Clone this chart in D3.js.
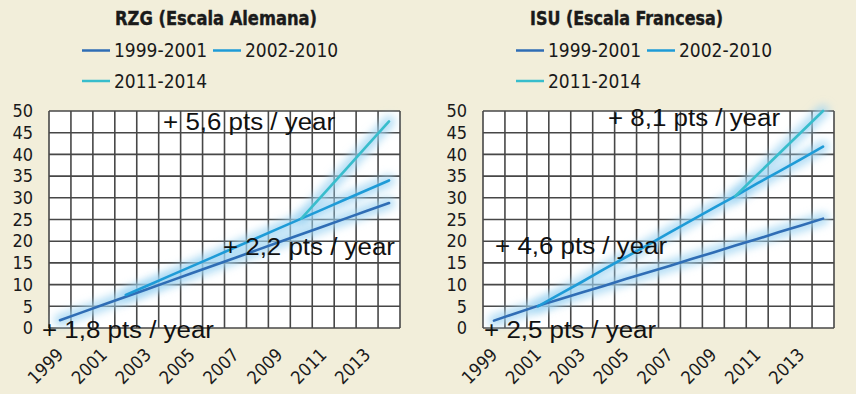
<!DOCTYPE html>
<html>
<head>
<meta charset="utf-8">
<script src="https://cdn.jsdelivr.net/npm/d3@7"></script>
<style>
  body { margin: 0; background: #f2eeda; }
  svg { display: block; }
</style>
</head>
<body>
<div id="chart"></div>
<script>
var W = 856, H = 394;

// shared axis data
var years = [1999, 2000, 2001, 2002, 2003, 2004, 2005, 2006, 2007, 2008, 2009, 2010, 2011, 2012, 2013, 2014];
var yearLabels = [1999, 2001, 2003, 2005, 2007, 2009, 2011, 2013];
var yTicks = [0, 5, 10, 15, 20, 25, 30, 35, 40, 45, 50];
var seriesNames = ["1999-2001", "2002-2010", "2011-2014"];
var seriesColors = ["#2f6db5", "#1e9bd7", "#38bdcc"];

// RZG (Escala Alemana)
var rzgYearsA = [1999, 2000, 2001, 2002, 2003, 2004, 2005, 2006, 2007, 2008, 2009, 2010, 2011, 2012, 2013, 2014];
var rzgValuesA = [1.8, 3.6, 5.4, 7.2, 9.0, 10.8, 12.6, 14.4, 16.2, 18.0, 19.8, 21.6, 23.4, 25.2, 27.0, 28.8];
var rzgYearsB = [2002, 2003, 2004, 2005, 2006, 2007, 2008, 2009, 2010, 2011, 2012, 2013, 2014];
var rzgValuesB = [7.6, 9.8, 12.0, 14.2, 16.4, 18.6, 20.8, 23.0, 25.2, 27.4, 29.6, 31.8, 34.0];
var rzgYearsC = [2010, 2011, 2012, 2013, 2014];
var rzgValuesC = [25.2, 30.8, 36.4, 42.0, 47.6];
var rzgNotes = ["+ 5,6 pts / year", "+ 2,2 pts / year", "+ 1,8 pts / year"];
var rzgNoteX = [2003.7, 2006.43, 1998.18];
var rzgNoteY = [45.6, 16.8, -2.3];

// ISU (Escala Francesa)
var isuYearsA = [1999, 2000, 2001, 2002, 2003, 2004, 2005, 2006, 2007, 2008, 2009, 2010, 2011, 2012, 2013, 2014];
var isuValuesA = [1.7, 3.4, 5.1, 6.6, 8.2, 9.7, 11.3, 12.8, 14.3, 15.9, 17.4, 19.0, 20.5, 22.1, 23.6, 25.2];
var isuYearsB = [2001, 2002, 2003, 2004, 2005, 2006, 2007, 2008, 2009, 2010, 2011, 2012, 2013, 2014];
var isuValuesB = [5.0, 7.8, 10.6, 13.5, 16.3, 19.1, 22.0, 24.8, 27.6, 30.4, 33.3, 36.1, 38.9, 41.8];
var isuYearsC = [2010, 2011, 2012, 2013, 2014];
var isuValuesC = [30.4, 35.3, 40.2, 45.1, 50.0];
var isuNotes = ["+ 8,1 pts / year", "+ 4,6 pts / year", "+ 2,5 pts / year"];
var isuNoteX = [2004.2, 1999.05, 1998.55];
var isuNoteY = [46.5, 17.1, -2.3];

var svg = d3.select("#chart").append("svg")
    .attr("width", W)
    .attr("height", H);

svg.append("rect").attr("width", W).attr("height", H).attr("fill", "#f2eeda");

var defs = svg.append("defs");
defs.append("filter")
    .attr("id", "glow")
    .attr("x", "-20%").attr("y", "-20%")
    .attr("width", "140%").attr("height", "140%")
    .append("feGaussianBlur")
    .attr("stdDeviation", 4);

var plotW = 351, plotH = 217, plotTop = 111;

function drawPanel(opts) {
    var g = svg.append("g").attr("transform", "translate(" + opts.left + ",0)");

    var x = d3.scaleLinear().domain([1998.5, 2014.5]).range([0, plotW]);
    var y = d3.scaleLinear().domain([0, 50]).range([plotH, 0]);

    // title
    g.append("text")
        .attr("x", opts.titleX)
        .attr("y", 25)
        .attr("text-anchor", "middle")
        .attr("font-family", "DejaVu Sans Condensed, DejaVu Sans")
        .attr("font-weight", "bold")
        .attr("font-size", 19)
        .attr("fill", "#1a1a1a")
        .attr("stroke", "#1a1a1a")
        .attr("stroke-width", 0.4)
        .attr("textLength", opts.titleLen)
        .attr("lengthAdjust", "spacingAndGlyphs")
        .text(opts.title);

    // legend
    var legendPos = [[33, 50.5], [164, 50.5], [33, 81]];
    var legend = g.append("g").attr("font-family", "DejaVu Sans Condensed, DejaVu Sans").attr("font-size", 19);
    seriesNames.forEach(function (name, i) {
        var p = legendPos[i];
        legend.append("line")
            .attr("x1", p[0]).attr("x2", p[0] + 28)
            .attr("y1", p[1]).attr("y2", p[1])
            .attr("stroke", seriesColors[i])
            .attr("stroke-width", 2.5);
        legend.append("text")
            .attr("x", p[0] + 32)
            .attr("y", p[1])
            .attr("dy", "0.36em")
            .attr("fill", "#1a1a1a")
            .text(name);
    });

    var plot = g.append("g").attr("transform", "translate(0," + plotTop + ")");

    plot.append("rect")
        .attr("width", plotW).attr("height", plotH)
        .attr("fill", "#ffffff");

    // grid
    var vLines = d3.range(1998.5, 2015, 1);
    plot.append("g").selectAll("line.v")
        .data(vLines).enter()
        .append("line")
        .attr("x1", function (d) { return x(d); })
        .attr("x2", function (d) { return x(d); })
        .attr("y1", 0).attr("y2", plotH)
        .attr("stroke", "#474747").attr("stroke-width", 1.6);
    plot.append("g").selectAll("line.h")
        .data(yTicks).enter()
        .append("line")
        .attr("x1", 0).attr("x2", plotW)
        .attr("y1", function (d) { return y(d); })
        .attr("y2", function (d) { return y(d); })
        .attr("stroke", "#474747").attr("stroke-width", 1.6);

    // axes
    var yAxis = plot.append("g")
        .call(d3.axisLeft(y).tickValues(yTicks).tickSize(0).tickPadding(16));
    yAxis.select(".domain").remove();
    yAxis.selectAll("text")
        .attr("font-family", "DejaVu Sans Condensed, DejaVu Sans")
        .attr("font-size", 18)
        .attr("fill", "#1a1a1a");

    var xAxis = plot.append("g")
        .attr("transform", "translate(0," + plotH + ")")
        .call(d3.axisBottom(x).tickValues(yearLabels).tickFormat(d3.format("d")).tickSize(0));
    xAxis.select(".domain").remove();
    xAxis.selectAll("text")
        .attr("font-family", "DejaVu Sans Condensed, DejaVu Sans")
        .attr("font-size", 18)
        .attr("fill", "#1a1a1a")
        .attr("text-anchor", "end")
        .attr("dy", 0)
        .attr("y", 0)
        .attr("transform", "translate(4,28) rotate(-45)");

    // lines
    var line = d3.line()
        .x(function (d) { return x(d[0]); })
        .y(function (d) { return y(d[1]); });

    var series = opts.series.map(function (s) { return d3.zip(s[0], s[1]); });

    series.forEach(function (pts) {
        plot.append("path")
            .attr("d", line(pts))
            .attr("fill", "none")
            .attr("stroke", "#9fd4f3")
            .attr("stroke-opacity", 0.8)
            .attr("stroke-width", 12)
            .attr("stroke-linecap", "round")
            .attr("filter", "url(#glow)");
    });
    series.forEach(function (pts, i) {
        plot.append("path")
            .attr("d", line(pts))
            .attr("fill", "none")
            .attr("stroke", seriesColors[i])
            .attr("stroke-width", 2.6)
            .attr("stroke-linecap", "round");
    });

    // annotations
    opts.notes.forEach(function (t, i) {
        plot.append("text")
            .attr("x", x(opts.noteX[i]))
            .attr("y", y(opts.noteY[i]))
            .attr("font-family", "Liberation Sans, Arial")
            .attr("font-size", 23)
            .attr("fill", "#111")
            .attr("textLength", 172)
            .attr("lengthAdjust", "spacingAndGlyphs")
            .text(t);
    });
}

drawPanel({
    left: 49, titleX: 167, titleLen: 202, title: "RZG (Escala Alemana)",
    series: [[rzgYearsA, rzgValuesA], [rzgYearsB, rzgValuesB], [rzgYearsC, rzgValuesC]],
    notes: rzgNotes, noteX: rzgNoteX, noteY: rzgNoteY
});
drawPanel({
    left: 483, titleX: 143.5, titleLen: 193, title: "ISU (Escala Francesa)",
    series: [[isuYearsA, isuValuesA], [isuYearsB, isuValuesB], [isuYearsC, isuValuesC]],
    notes: isuNotes, noteX: isuNoteX, noteY: isuNoteY
});
</script>
</body>
</html>
